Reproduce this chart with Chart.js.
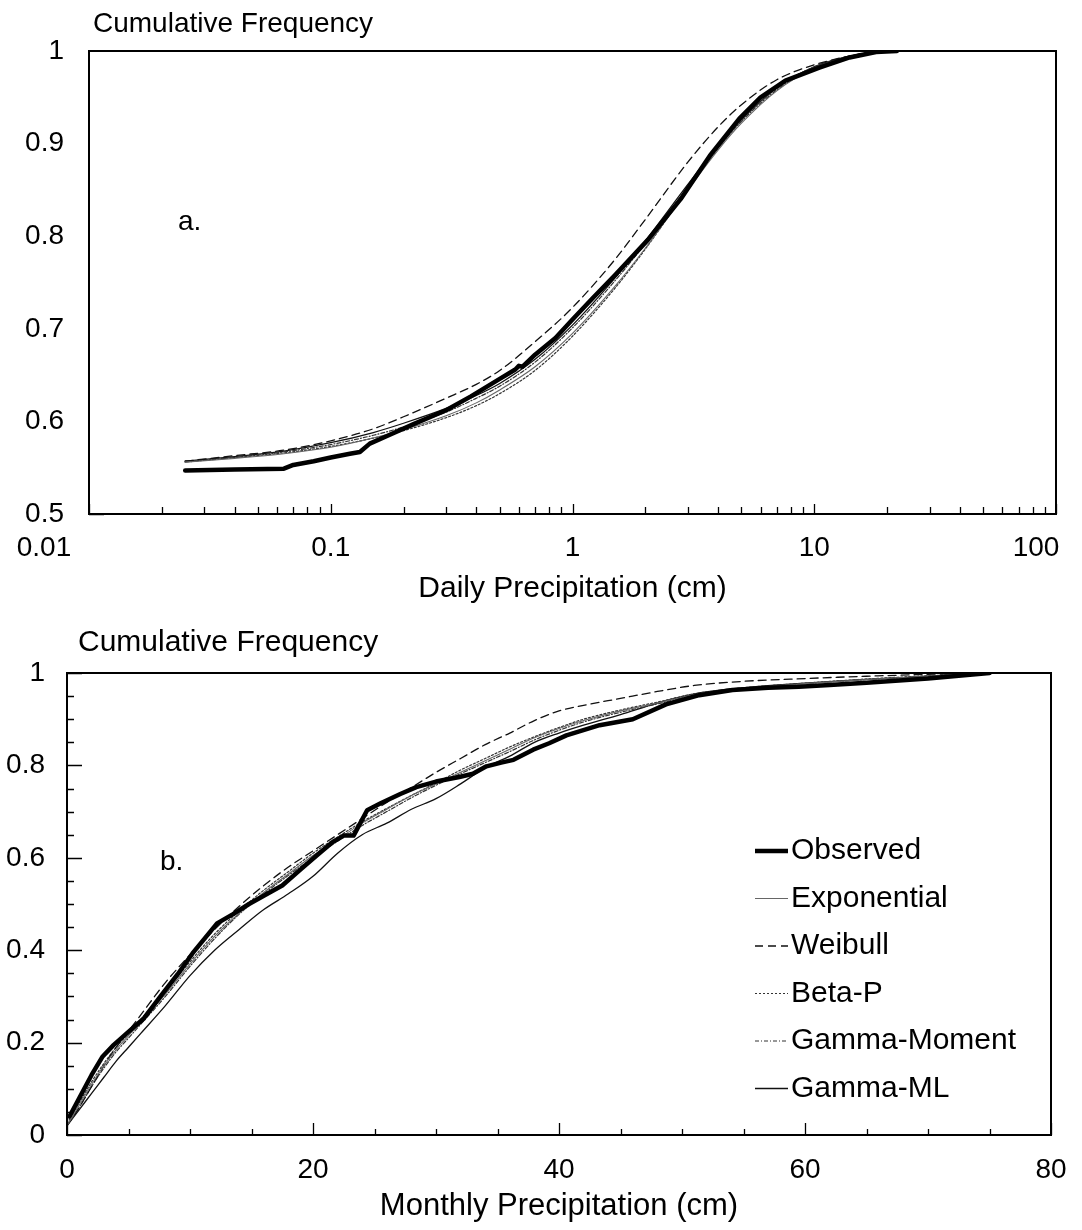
<!DOCTYPE html>
<html>
<head>
<meta charset="utf-8">
<title>Cumulative frequency of daily and monthly precipitation</title>
<script src="https://cdn.jsdelivr.net/npm/chart.js@4.4.1/dist/chart.umd.min.js"></script>
<style>
  html, body { margin: 0; padding: 0; background: #fff; }
  #wrap { position: relative; width: 1082px; height: 1230px; }
  canvas { position: absolute; left: 0; }
</style>
</head>
<body>
<div id="wrap">
  <canvas id="daily" width="1082" height="615" style="top:0"></canvas>
  <canvas id="monthly" width="1082" height="615" style="top:615px"></canvas>
</div>
<script>
// ---------- Panel a: daily precipitation (log x axis) ----------
const dailyTickValues = [0.01, 0.1, 1, 10, 100];
const dailyTickLabels = ['0.01', '0.1', '1', '10', '100'];
const dailyYTickValues = [0.5, 0.6, 0.7, 0.8, 0.9, 1];
const dailyYTickLabels = ['0.5', '0.6', '0.7', '0.8', '0.9', '1'];

const dailyObsX = [0.025, 0.04, 0.064, 0.07, 0.085, 0.1, 0.12, 0.132, 0.145, 0.17, 0.22, 0.3, 0.38, 0.5, 0.58, 0.6, 0.62, 0.7, 0.85, 1.0, 1.2, 1.5, 2.05, 2.8, 3.7, 4.9, 6, 7.6, 10.5, 14, 18, 22];
const dailyObsY = [0.547, 0.548, 0.549, 0.553, 0.557, 0.561, 0.565, 0.567, 0.576, 0.584, 0.597, 0.612, 0.627, 0.646, 0.656, 0.660, 0.659, 0.672, 0.690, 0.710, 0.732, 0.758, 0.796, 0.840, 0.887, 0.927, 0.950, 0.968, 0.982, 0.993, 0.999, 1.0];

const dailyFitX = [0.025, 0.04, 0.064, 0.1, 0.15, 0.2, 0.3, 0.4, 0.5, 0.7, 1, 1.5, 2, 3, 4, 5, 7, 10, 15, 20];
const dailyExponential = [0.556, 0.560, 0.565, 0.572, 0.582, 0.591, 0.606, 0.620, 0.634, 0.659, 0.695, 0.746, 0.787, 0.850, 0.893, 0.922, 0.957, 0.981, 0.995, 1.0];
const dailyWeibull     = [0.557, 0.563, 0.569, 0.579, 0.592, 0.605, 0.625, 0.640, 0.655, 0.686, 0.723, 0.775, 0.818, 0.880, 0.918, 0.942, 0.969, 0.985, 0.996, 1.0];
const dailyBetaP       = [0.557, 0.561, 0.566, 0.573, 0.582, 0.590, 0.604, 0.617, 0.630, 0.655, 0.692, 0.744, 0.786, 0.851, 0.895, 0.925, 0.960, 0.983, 0.996, 1.0];
const dailyGammaMoment = [0.556, 0.561, 0.567, 0.575, 0.585, 0.594, 0.610, 0.625, 0.638, 0.664, 0.701, 0.752, 0.792, 0.853, 0.895, 0.924, 0.958, 0.982, 0.995, 1.0];
const dailyGammaML     = [0.557, 0.562, 0.568, 0.577, 0.588, 0.598, 0.614, 0.628, 0.641, 0.667, 0.704, 0.755, 0.795, 0.856, 0.898, 0.926, 0.960, 0.983, 0.996, 1.0];

// ---------- Panel b: monthly precipitation (linear x axis) ----------
const monthlyTickValues = [0, 20, 40, 60, 80];
const monthlyTickLabels = ['0', '20', '40', '60', '80'];
const monthlyYTickValues = [0, 0.2, 0.4, 0.6, 0.8, 1];
const monthlyYTickLabels = ['0', '0.2', '0.4', '0.6', '0.8', '1'];

const monthlyObsX = [0.2, 1, 2, 2.9, 3.8, 4.9, 6.2, 7.6, 9, 10.2, 12.2, 13.5, 14.8, 16, 17.5, 19, 20.3, 21.6, 22.5, 23.3, 24.4, 25.5, 27.1, 28.4, 30, 31.9, 33, 34.1, 35.3, 36.3, 37.9, 39.2, 40.6, 43.3, 46, 48.7, 51.4, 54.1, 57, 59.5, 62, 65, 70, 75];
const monthlyObsY = [0.04, 0.08, 0.13, 0.17, 0.195, 0.221, 0.251, 0.30, 0.348, 0.393, 0.458, 0.478, 0.50, 0.518, 0.54, 0.575, 0.605, 0.634, 0.648, 0.648, 0.703, 0.718, 0.738, 0.753, 0.765, 0.775, 0.782, 0.798, 0.806, 0.812, 0.834, 0.848, 0.865, 0.887, 0.90, 0.932, 0.952, 0.963, 0.968, 0.970, 0.974, 0.979, 0.988, 1.0];

const monthlyFitX = [0, 1, 2, 3, 4, 5, 6, 8, 10, 12, 14, 16, 18, 20, 22, 24, 26, 28, 30, 32, 34, 36, 38, 40, 42, 45, 48, 51, 55, 60, 65, 70, 75];
const monthlyExponential = [0.02, 0.065, 0.11, 0.15, 0.185, 0.215, 0.245, 0.305, 0.37, 0.43, 0.48, 0.525, 0.565, 0.605, 0.64, 0.675, 0.705, 0.735, 0.76, 0.785, 0.81, 0.835, 0.86, 0.88, 0.897, 0.918, 0.935, 0.953, 0.966, 0.977, 0.986, 0.993, 1.0];
const monthlyWeibull     = [0.02, 0.06, 0.105, 0.15, 0.19, 0.225, 0.26, 0.33, 0.39, 0.445, 0.495, 0.54, 0.58, 0.615, 0.65, 0.685, 0.72, 0.752, 0.785, 0.815, 0.845, 0.87, 0.897, 0.918, 0.93, 0.945, 0.96, 0.973, 0.982, 0.988, 0.993, 0.997, 1.0];
const monthlyBetaP       = [0.025, 0.07, 0.115, 0.155, 0.19, 0.22, 0.25, 0.31, 0.375, 0.435, 0.485, 0.53, 0.57, 0.61, 0.645, 0.678, 0.707, 0.735, 0.762, 0.79, 0.815, 0.84, 0.862, 0.882, 0.9, 0.92, 0.937, 0.955, 0.968, 0.978, 0.987, 0.994, 1.0];
const monthlyGammaMoment = [0.02, 0.06, 0.105, 0.145, 0.18, 0.21, 0.24, 0.30, 0.365, 0.425, 0.478, 0.522, 0.562, 0.60, 0.636, 0.67, 0.70, 0.73, 0.757, 0.782, 0.806, 0.83, 0.855, 0.876, 0.894, 0.915, 0.933, 0.952, 0.966, 0.977, 0.986, 0.993, 1.0];
const monthlyGammaML     = [0.02, 0.055, 0.09, 0.125, 0.16, 0.19, 0.22, 0.28, 0.345, 0.40, 0.445, 0.488, 0.522, 0.56, 0.61, 0.65, 0.675, 0.705, 0.728, 0.76, 0.795, 0.82, 0.85, 0.87, 0.887, 0.91, 0.935, 0.955, 0.968, 0.978, 0.986, 0.993, 1.0];

const seriesNames = ['Observed', 'Exponential', 'Weibull', 'Beta-P', 'Gamma-Moment', 'Gamma-ML'];

// ---------- drawing styles ----------
const FONT = "'Liberation Sans', Arial, Helvetica, sans-serif";
const lineStyles = {
  'Observed':     { borderColor: '#000', borderWidth: 4.5, borderDash: [], order: 0 },
  'Exponential':  { borderColor: '#666', borderWidth: 1.1, borderDash: [], order: 1 },
  'Weibull':      { borderColor: '#111', borderWidth: 1.3, borderDash: [8, 5], order: 1 },
  'Beta-P':       { borderColor: '#333', borderWidth: 1.2, borderDash: [2, 2], order: 1 },
  'Gamma-Moment': { borderColor: '#333', borderWidth: 1.2, borderDash: [4, 2, 1, 2], order: 1 },
  'Gamma-ML':     { borderColor: '#111', borderWidth: 1.3, borderDash: [], order: 1 }
};

function pts(xs, ys) { return xs.map((x, i) => ({ x: x, y: ys[i] })); }

function buildDatasets(obsX, obsY, fitX, fits) {
  return seriesNames.map((name, i) => {
    const st = lineStyles[name];
    const isObs = i === 0;
    return {
      label: name,
      data: isObs ? pts(obsX, obsY) : pts(fitX, fits[i - 1]),
      borderColor: st.borderColor,
      borderWidth: st.borderWidth,
      borderDash: st.borderDash,
      order: st.order,
      pointRadius: 0,
      fill: false,
      tension: isObs ? 0 : 0.4,
      cubicInterpolationMode: isObs ? 'default' : 'monotone',
      borderCapStyle: 'round',
      borderJoinStyle: 'round'
    };
  });
}

// Frame around the plot area plus inward-pointing major/minor ticks
const frameTicks = {
  id: 'frameTicks',
  afterDatasetsDraw(chart, args, opts) {
    const { ctx, chartArea: a } = chart;
    const xs = chart.scales.x, ys = chart.scales.y;
    ctx.save();
    ctx.strokeStyle = '#000';
    ctx.lineWidth = 2;
    ctx.strokeRect(a.left, a.top, a.right - a.left, a.bottom - a.top);
    ctx.lineWidth = 1.3;
    ctx.beginPath();
    opts.xMarks.forEach(m => {
      const px = Math.round(xs.getPixelForValue(m.v)) + 0.5;
      ctx.moveTo(px, a.bottom);
      ctx.lineTo(px, a.bottom - (m.major ? opts.xMajorLen : opts.xMinorLen));
    });
    opts.yMarks.forEach(m => {
      const py = Math.round(ys.getPixelForValue(m.v)) + 0.5;
      ctx.moveTo(a.left, py);
      ctx.lineTo(a.left + (m.major ? opts.yMajorLen : opts.yMinorLen), py);
    });
    ctx.stroke();
    ctx.restore();
  }
};

// Free text drawn on the canvas (axis heading, panel letter) and the
// x tick labels that sit off-centre from their tick
const panelText = {
  id: 'panelText',
  afterDraw(chart, args, opts) {
    const { ctx, chartArea: a } = chart;
    const xs = chart.scales.x;
    ctx.save();
    ctx.fillStyle = '#000';
    ctx.textBaseline = 'middle';
    ctx.textAlign = 'left';
    opts.items.forEach(it => {
      ctx.font = it.size + 'px ' + FONT;
      ctx.fillText(it.text, it.x, it.y);
    });
    ctx.textAlign = 'center';
    ctx.font = opts.tickSize + 'px ' + FONT;
    (opts.shifted || []).forEach(s => {
      ctx.fillText(s.text, xs.getPixelForValue(s.value) + s.dx, a.bottom + opts.tickDy);
    });
    ctx.restore();
  }
};

// Legend with short line samples, placed inside the plot area
const sampleLegend = {
  id: 'sampleLegend',
  afterDraw(chart, args, opts) {
    if (!opts.show) return;
    const { ctx } = chart;
    ctx.save();
    ctx.textBaseline = 'middle';
    ctx.textAlign = 'left';
    ctx.font = opts.size + 'px ' + FONT;
    chart.data.datasets.forEach((ds, i) => {
      const y = opts.y + i * opts.step;
      ctx.strokeStyle = ds.borderColor;
      ctx.lineWidth = ds.borderWidth;
      ctx.setLineDash(ds.borderDash || []);
      ctx.beginPath();
      ctx.moveTo(opts.x, y);
      ctx.lineTo(opts.x + opts.len, y);
      ctx.stroke();
      ctx.setLineDash([]);
      ctx.fillStyle = '#000';
      ctx.fillText(ds.label, opts.x + opts.len + opts.gap, y);
    });
    ctx.restore();
  }
};

function logMarks() {
  const marks = [];
  [0.01, 0.1, 1, 10].forEach(d => {
    for (let m = 1; m <= 9; m++) marks.push({ v: m * d, major: m === 1 });
  });
  marks.push({ v: 100, major: true });
  return marks;
}
function stepMarks(n, div, majorEvery) {
  const marks = [];
  for (let i = 0; i <= n; i++) marks.push({ v: i / div, major: i % majorEvery === 0 });
  return marks;
}

function axisFont(size) { return { family: FONT, size: size }; }

function makeChart(canvasId, cfg) {
  const shiftedIdx = cfg.shifted.map(s => s.index);
  return new Chart(document.getElementById(canvasId), {
    type: 'line',
    data: { datasets: cfg.datasets },
    options: {
      responsive: false,
      animation: false,
      events: [],
      layout: { padding: cfg.padding },
      plugins: {
        legend: { display: false },
        tooltip: { enabled: false },
        frameTicks: cfg.marks,
        panelText: {
          items: cfg.texts, tickSize: 28, tickDy: cfg.xPad + 17,
          shifted: cfg.shifted.map(s => ({ value: cfg.xTicks[s.index], text: cfg.xLabels[s.index], dx: s.dx }))
        },
        sampleLegend: cfg.legend
      },
      scales: {
        x: {
          type: cfg.xType,
          min: cfg.xMin, max: cfg.xMax,
          grid: { display: false, drawTicks: false },
          border: { display: false },
          afterBuildTicks: s => { s.ticks = cfg.xTicks.map(v => ({ value: v })); },
          afterFit: s => { s.height = cfg.xHeight; s.paddingLeft = 0; s.paddingRight = 0; },
          ticks: {
            autoSkip: false, maxRotation: 0, color: '#000',
            font: axisFont(28), padding: cfg.xPad,
            callback: (v, i) => shiftedIdx.includes(i) ? '' : cfg.xLabels[i]
          },
          title: {
            display: true, text: cfg.xTitle, color: '#000',
            font: axisFont(cfg.titleSize), padding: { top: 0, bottom: cfg.titlePad }
          }
        },
        y: {
          type: 'linear',
          min: cfg.yMin, max: cfg.yMax,
          grid: { display: false, drawTicks: false },
          border: { display: false },
          afterBuildTicks: s => { s.ticks = cfg.yTicks.map(v => ({ value: v })); },
          afterFit: s => { s.width = cfg.yWidth; },
          ticks: {
            autoSkip: false, color: '#000',
            font: axisFont(28), padding: cfg.yPad,
            callback: (v, i) => cfg.yLabels[i]
          }
        }
      }
    },
    plugins: [frameTicks, panelText, sampleLegend]
  });
}

makeChart('daily', {
  datasets: buildDatasets(dailyObsX, dailyObsY, dailyFitX,
    [dailyExponential, dailyWeibull, dailyBetaP, dailyGammaMoment, dailyGammaML]),
  padding: { left: 0, right: 26, top: 51, bottom: 0 },
  xType: 'logarithmic', xMin: 0.01, xMax: 100,
  xTicks: dailyTickValues, xLabels: dailyTickLabels,
  shifted: [{ index: 0, dx: -45 }, { index: 4, dx: -20 }],
  yMin: 0.5, yMax: 1, yTicks: dailyYTickValues, yLabels: dailyYTickLabels,
  xHeight: 101, yWidth: 89, xPad: 17, yPad: 25, titlePad: 8, titleSize: 30,
  xTitle: 'Daily Precipitation (cm)',
  marks: { xMarks: logMarks(), yMarks: stepMarks(25, 50, 5).filter(m => m.v >= 0.5),
           xMajorLen: 10, xMinorLen: 7, yMajorLen: 15, yMinorLen: 7 },
  texts: [
    { text: 'Cumulative Frequency', x: 93, y: 24, size: 28 },
    { text: 'a.', x: 178, y: 222, size: 28 }
  ],
  legend: { show: false }
});

makeChart('monthly', {
  datasets: buildDatasets(monthlyObsX, monthlyObsY, monthlyFitX,
    [monthlyExponential, monthlyWeibull, monthlyBetaP, monthlyGammaMoment, monthlyGammaML]),
  padding: { left: 0, right: 31, top: 58, bottom: 0 },
  xType: 'linear', xMin: 0, xMax: 80,
  xTicks: monthlyTickValues, xLabels: monthlyTickLabels,
  shifted: [],
  yMin: 0, yMax: 1, yTicks: monthlyYTickValues, yLabels: monthlyYTickLabels,
  xHeight: 95, yWidth: 67, xPad: 18, yPad: 22, titlePad: 5, titleSize: 31,
  xTitle: 'Monthly Precipitation (cm)',
  marks: { xMarks: stepMarks(16, 0.2, 4), yMarks: stepMarks(20, 20, 4),
           xMajorLen: 12, xMinorLen: 6, yMajorLen: 15, yMinorLen: 7 },
  texts: [
    { text: 'Cumulative Frequency', x: 78, y: 28, size: 30 },
    { text: 'b.', x: 160, y: 247, size: 28 }
  ],
  legend: { show: true, x: 755, y: 236, step: 47.5, len: 33, gap: 3, size: 30 }
});
</script>
</body>
</html>
